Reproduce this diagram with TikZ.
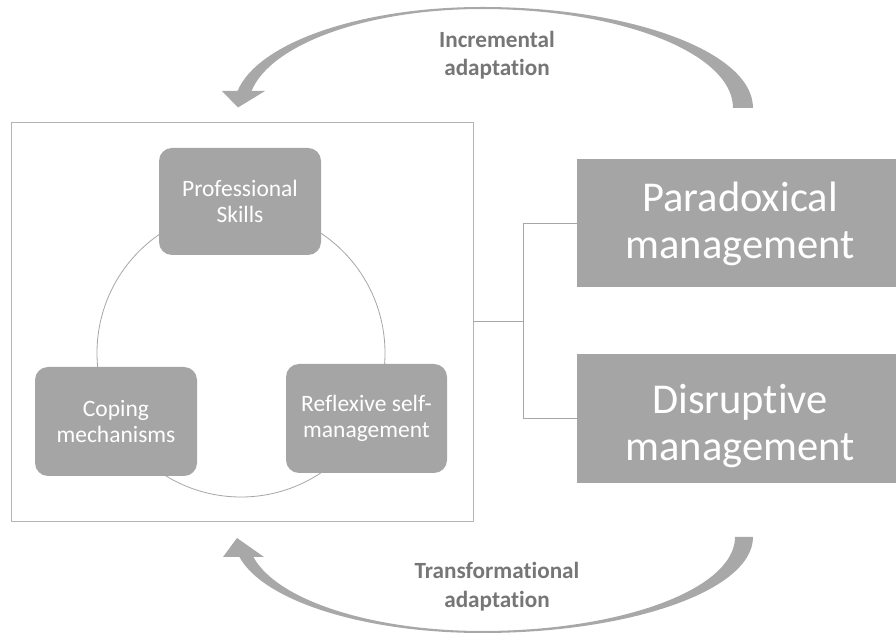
\documentclass[tikz,border=0pt]{standalone}
\usepackage{fontspec}
\setmainfont{Carlito}[Ligatures={NoCommon}]
\usetikzlibrary{calc}

\definecolor{boxgray}{HTML}{A5A5A5}
\definecolor{arrowgray}{HTML}{A8A8A8}
\definecolor{labelgray}{HTML}{767676}
\definecolor{framegray}{HTML}{B4B4B4}
\definecolor{ringgray}{HTML}{A6A6A6}

\newcommand\skillfont{\fontsize{23.5}{26}\selectfont}
\newcommand\modefont{\fontsize{42.5}{47}\selectfont}
\newcommand\adaptfont{\bfseries\fontsize{23.2}{28.5}\selectfont}

\begin{document}
\begin{tikzpicture}[x=1pt,y=1pt,
  frame/.style={draw=framegray, line width=0.9pt, minimum width=462, minimum height=399, inner sep=0},
  ring/.style={draw=ringgray, line width=0.8pt, circle, minimum size=288, inner sep=0},
  skillbox/.style={fill=boxgray, rounded corners=13pt, text=white, font=\skillfont,
    align=center, inner sep=0},
  modebox/.style={fill=boxgray, inner sep=0, minimum width=326},
  modetext/.style={text=white, font=\modefont, align=center, inner sep=0},
  linkline/.style={draw=ringgray, line width=0.9pt},
  flowarrow/.style={fill=arrowgray, draw=none},
  adaptlabel/.style={text=labelgray, font=\adaptfont, align=center, inner sep=0}]

\clip (0,0) rectangle (896,634);
\fill[white] (0,0) rectangle (896,634);

% outer frame around the three competences
\node[frame] (frame) at (242,312.5) {};

% ring joining the competences
\node[ring] (ring) at (241,281) {};

% the three competences
\node[skillbox, minimum width=162, minimum height=107] (prof) at (240,432.5)
  {Professional\\Skills};
\node[skillbox, minimum width=162, minimum height=109] (coping) at (116,212.5)
  {Coping\\mechanisms};
\node[skillbox, minimum width=161, minimum height=109] (reflex) at (366.5,215.5)
  {Reflexive self-\\management};

% management modes
\node[modebox, minimum height=128] (para) at (740,411) {};
\node[modetext] (paratext) at ($(para.center)+(0,-1)$) {Paradoxical\\management};
\node[modebox, minimum height=129] (disr) at (740,215.5) {};
\node[modetext] (disrtext) at ($(disr.center)+(0,-8)$) {Disruptive\\management};

% bracket from the frame to the two modes
\draw[linkline] (frame.east) -- ++(50,0) coordinate (fork);
\draw[linkline] (fork) |- (para.west);
\draw[linkline] (fork) |- (disr.west);

% upper curved arrow (incremental adaptation)
\fill[flowarrow] (733,526) -- (753,526)
  arc[start angle=0, end angle=90, x radius=271, y radius=101]
  arc[start angle=90, end angle=170.3, x radius=248, y radius=101]
  -- (222,543) -- (238,526.5) -- (265,543) -- (251.5,543)
  arc[start angle=170.1, end angle=90, x radius=234, y radius=99]
  arc[start angle=90, end angle=0, x radius=251, y radius=99]
  -- cycle;
\node[adaptlabel] (incr) at (497,578.7) {Incremental\\adaptation};

% lower curved arrow (transformational adaptation)
\fill[flowarrow] (735,97) -- (753,97)
  arc[start angle=360, end angle=270, x radius=271, y radius=96]
  arc[start angle=270, end angle=192, x radius=248, y radius=96]
  -- (223,77) -- (237,96) -- (264,77) -- (253.4,77)
  arc[start angle=192.3, end angle=270, x radius=234, y radius=94]
  arc[start angle=270, end angle=360, x radius=253, y radius=94]
  -- cycle;
\node[adaptlabel] (trans) at (497,47.2) {Transformational\\adaptation};

\end{tikzpicture}
\end{document}
